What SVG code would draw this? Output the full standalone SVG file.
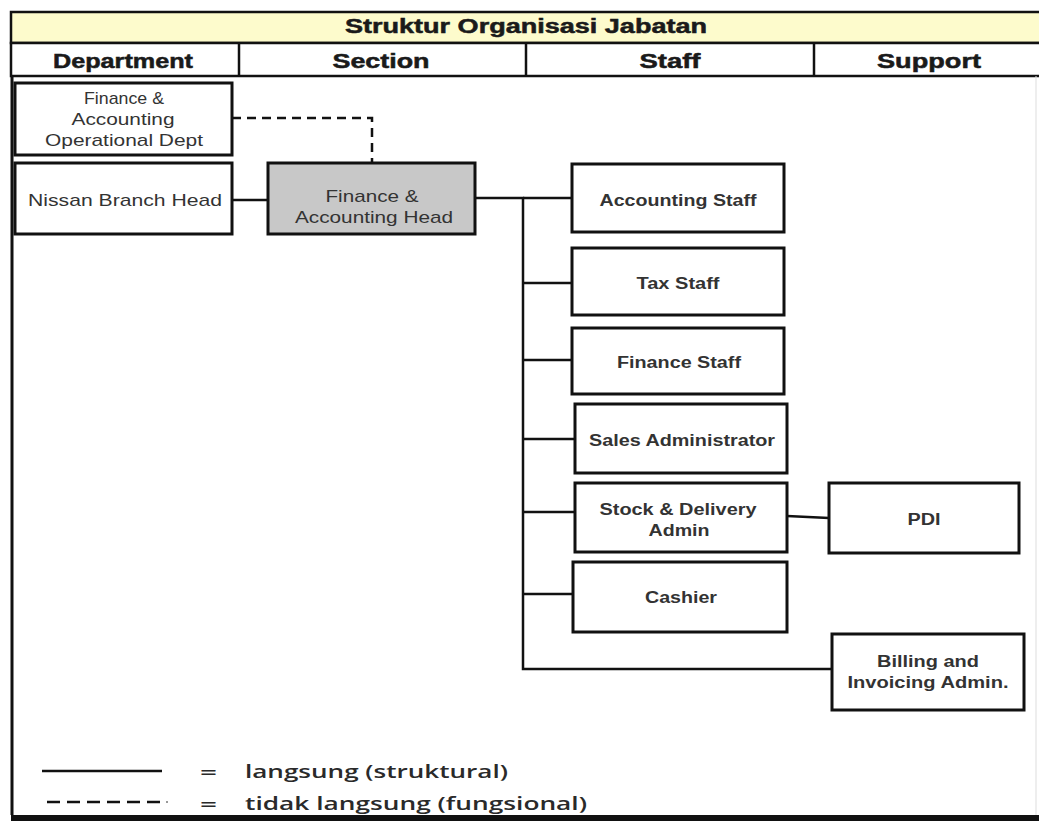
<svg xmlns="http://www.w3.org/2000/svg" width="1039" height="821" viewBox="0 0 1039 821">
<style>
.box{fill:#fff;stroke:#111;stroke-width:3}
.gray{fill:#c8c8c8;stroke:#111;stroke-width:3}
.hd{font-family:"Liberation Sans",Arial,sans-serif;font-weight:bold;font-size:20px;fill:#1a1a1a;stroke:#1a1a1a;stroke-width:0.5;text-anchor:middle}
.n{font-family:"Liberation Sans",Arial,sans-serif;font-size:17px;fill:#333;text-anchor:middle}
.b{font-family:"Liberation Sans",Arial,sans-serif;font-weight:bold;font-size:16px;fill:#333;text-anchor:middle}
.lg{font-family:"Open Sans","Noto Sans",sans-serif;font-weight:600;font-size:18.5px;fill:#2a2a2a}
.c{fill:none;stroke:#111;stroke-width:2.5}
.d{fill:none;stroke:#111;stroke-width:2.5;stroke-dasharray:9 6}
</style>
<rect x="0" y="0" width="1039" height="821" fill="#fff"/>
<g id="frame">
<rect x="11" y="12" width="1030" height="31" fill="#fdfbcc" stroke="#111" stroke-width="2.5"/>
<rect x="11" y="43" width="1030" height="33" fill="#fff" stroke="#111" stroke-width="2.5"/>
<line x1="239" y1="43" x2="239" y2="76" stroke="#111" stroke-width="2.5"/>
<line x1="526" y1="43" x2="526" y2="76" stroke="#111" stroke-width="2.5"/>
<line x1="814" y1="43" x2="814" y2="76" stroke="#111" stroke-width="2.5"/>
<line x1="12" y1="76" x2="12" y2="815" stroke="#111" stroke-width="3"/>
<line x1="1036" y1="76" x2="1036" y2="815" stroke="#ddd" stroke-width="1"/>
<rect x="11" y="815" width="1028" height="6" fill="#111"/>
<text class="hd" x="526" y="33" font-size="18.5" textLength="362" lengthAdjust="spacingAndGlyphs">Struktur Organisasi Jabatan</text>
<text class="hd" x="123" y="68" textLength="140" lengthAdjust="spacingAndGlyphs">Department</text>
<text class="hd" x="381" y="68" textLength="97" lengthAdjust="spacingAndGlyphs">Section</text>
<text class="hd" x="670" y="68" textLength="61" lengthAdjust="spacingAndGlyphs">Staff</text>
<text class="hd" x="929" y="68" textLength="104" lengthAdjust="spacingAndGlyphs">Support</text>
</g>
<g id="connectors">
<path class="d" d="M232 118 H372 V163"/>
<path class="c" d="M232 200 H268"/>
<path class="c" d="M475 198 H523 V669 H832"/>
<path class="c" d="M523 198 H572" stroke-width="1.5"/>
<path class="c" d="M523 283 H572"/>
<path class="c" d="M523 360 H572"/>
<path class="c" d="M523 439 H575"/>
<path class="c" d="M523 512 H575"/>
<path class="c" d="M523 594 H573"/>
<path class="c" d="M787 516 L829 518" stroke-width="2"/>
</g>
<g id="n-opdept"><rect class="box" x="15" y="83" width="217" height="72"/>
<text class="n" x="124" y="104" textLength="80" lengthAdjust="spacingAndGlyphs">Finance &amp;</text>
<text class="n" x="123" y="125" textLength="103" lengthAdjust="spacingAndGlyphs">Accounting</text>
<text class="n" x="124" y="146" textLength="158" lengthAdjust="spacingAndGlyphs">Operational Dept</text></g>
<g id="n-branch"><rect class="box" x="15" y="163" width="217" height="71"/>
<text class="n" x="125" y="206" textLength="194" lengthAdjust="spacingAndGlyphs">Nissan Branch Head</text></g>
<g id="n-fahead"><rect class="gray" x="268" y="163" width="207" height="71"/>
<text class="n" x="372" y="202" textLength="93" lengthAdjust="spacingAndGlyphs">Finance &amp;</text>
<text class="n" x="374" y="223" textLength="158" lengthAdjust="spacingAndGlyphs">Accounting Head</text></g>
<g id="n-acc"><rect class="box" x="572" y="164" width="212" height="68"/>
<text class="b" x="678" y="206" textLength="157" lengthAdjust="spacingAndGlyphs">Accounting Staff</text></g>
<g id="n-tax"><rect class="box" x="572" y="248" width="212" height="67"/>
<text class="b" x="678" y="289" textLength="83" lengthAdjust="spacingAndGlyphs">Tax Staff</text></g>
<g id="n-fin"><rect class="box" x="572" y="328" width="212" height="66"/>
<text class="b" x="679" y="368" textLength="124" lengthAdjust="spacingAndGlyphs">Finance Staff</text></g>
<g id="n-sales"><rect class="box" x="575" y="404" width="212" height="69"/>
<text class="b" x="682" y="446" textLength="186" lengthAdjust="spacingAndGlyphs">Sales Administrator</text></g>
<g id="n-stock"><rect class="box" x="575" y="483" width="212" height="69"/>
<text class="b" x="678" y="515" textLength="157" lengthAdjust="spacingAndGlyphs">Stock &amp; Delivery</text>
<text class="b" x="679" y="536" textLength="61" lengthAdjust="spacingAndGlyphs">Admin</text></g>
<g id="n-pdi"><rect class="box" x="829" y="483" width="190" height="70"/>
<text class="b" x="924" y="525" textLength="33" lengthAdjust="spacingAndGlyphs">PDI</text></g>
<g id="n-cash"><rect class="box" x="573" y="562" width="214" height="70"/>
<text class="b" x="681" y="603" textLength="72" lengthAdjust="spacingAndGlyphs">Cashier</text></g>
<g id="n-bill"><rect class="box" x="832" y="634" width="192" height="76"/>
<text class="b" x="928" y="667" textLength="102" lengthAdjust="spacingAndGlyphs">Billing and</text>
<text class="b" x="928" y="688" textLength="161" lengthAdjust="spacingAndGlyphs">Invoicing Admin.</text></g>
<g id="legend">
<line x1="42" y1="771" x2="162" y2="771" stroke="#111" stroke-width="2.5"/>
<line x1="47" y1="802" x2="162" y2="802" stroke="#111" stroke-width="2.5" stroke-dasharray="13 7"/>
<line x1="166" y1="802" x2="168" y2="802" stroke="#777" stroke-width="1.5"/>
<text class="lg" x="200" y="779" font-size="21" font-weight="bold" textLength="17" lengthAdjust="spacingAndGlyphs">=</text>
<text class="lg" x="200" y="811" font-size="21" font-weight="bold" textLength="17" lengthAdjust="spacingAndGlyphs">=</text>
<text class="lg" x="245" y="778" textLength="263" lengthAdjust="spacingAndGlyphs">langsung (struktural)</text>
<text class="lg" x="245" y="810" textLength="342" lengthAdjust="spacingAndGlyphs">tidak langsung (fungsional)</text>
</g>
</svg>
